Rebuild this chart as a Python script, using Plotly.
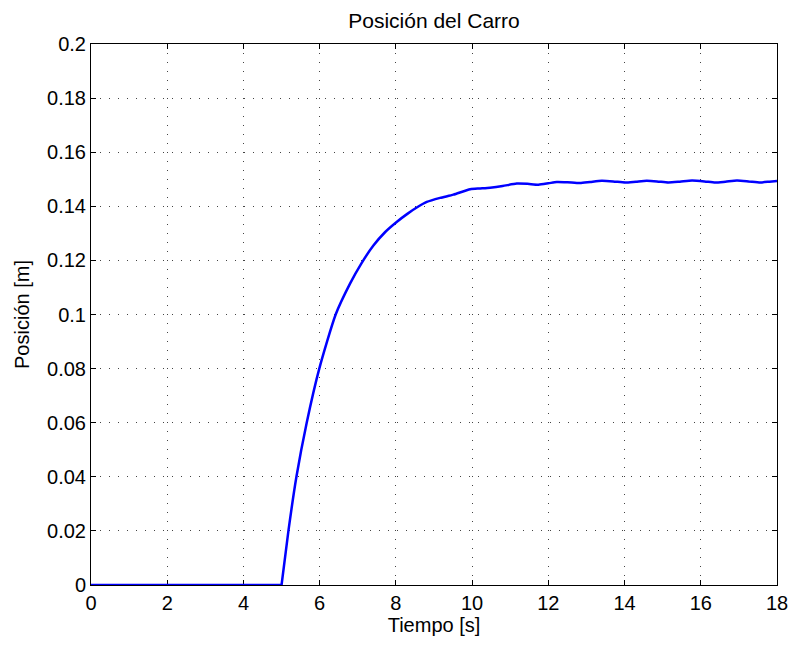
import plotly.graph_objects as go

tiempo = [0, 5.0, 5.18, 5.39, 5.66, 5.99, 6.42, 6.8, 7.1, 7.41, 7.72, 8.02, 8.3, 8.6,
          8.81, 9.16, 9.51, 9.95, 10.21, 10.47, 10.8, 11.17, 11.45, 11.74, 12.0, 12.22,
          12.5, 12.83, 13.1, 13.4, 13.7, 14.02, 14.3, 14.58, 14.85, 15.15, 15.45, 15.77,
          16.1, 16.38, 16.65, 16.95, 17.25, 17.56, 17.8, 18.0]
posicion = [0, 0, 0.0200, 0.0400, 0.0600, 0.0800, 0.1000, 0.1115, 0.1190, 0.1255, 0.1305,
            0.1342, 0.1372, 0.1400, 0.1416, 0.1431, 0.1443, 0.1463, 0.1466, 0.1469, 0.1475,
            0.1484, 0.1483, 0.1480, 0.1485, 0.1490, 0.1489, 0.1486, 0.1490, 0.1494, 0.1492,
            0.1488, 0.1491, 0.1494, 0.1492, 0.1488, 0.1491, 0.1495, 0.1492, 0.1488, 0.1491,
            0.1495, 0.1492, 0.1488, 0.1491, 0.1494]

x_ticks = list(range(0, 19, 2))
y_ticks = [0, 0.02, 0.04, 0.06, 0.08, 0.1, 0.12, 0.14, 0.16, 0.18, 0.2]
y_labels = ["0", "0.02", "0.04", "0.06", "0.08", "0.1", "0.12", "0.14", "0.16", "0.18", "0.2"]

fig = go.Figure()
# flat part before the step (linear) and the response after it (smoothed)
fig.add_trace(go.Scatter(x=tiempo[:2], y=posicion[:2], mode="lines",
                         line=dict(color="#0000FF", width=2.5, shape="linear"),
                         showlegend=False, hoverinfo="skip"))
fig.add_trace(go.Scatter(x=tiempo[1:], y=posicion[1:], mode="lines",
                         line=dict(color="#0000FF", width=2.5, shape="spline", smoothing=0.6),
                         showlegend=False, hoverinfo="skip"))

axis_common = dict(showline=True, linecolor="black", linewidth=1, mirror="allticks",
                   ticks="inside", ticklen=5, tickcolor="black", layer="below traces",
                   showgrid=True, gridcolor="#444444", griddash="1px,8px", gridwidth=1,
                   zeroline=False, tickfont=dict(size=20, color="black"),
                   title_font=dict(size=20, color="black"))

fig.update_xaxes(range=[0, 18], tickvals=x_ticks, ticktext=[str(v) for v in x_ticks],
                 title=dict(text="Tiempo [s]", standoff=4), **axis_common)
fig.update_yaxes(range=[0, 0.2], tickvals=y_ticks, ticktext=y_labels,
                 title=dict(text="Posición [m]", standoff=12), **axis_common)

fig.update_layout(
    width=793, height=645,
    margin=dict(l=91, r=16, t=44, b=60, autoexpand=False),
    paper_bgcolor="white", plot_bgcolor="white",
    font=dict(family="Liberation Sans, Arial, sans-serif", color="black"),
    title=dict(text="Posición del Carro", x=0.5, xanchor="center", xref="paper",
               y=0.968, yanchor="middle", font=dict(size=21, color="black")),
)

fig.write_html("out.html")
